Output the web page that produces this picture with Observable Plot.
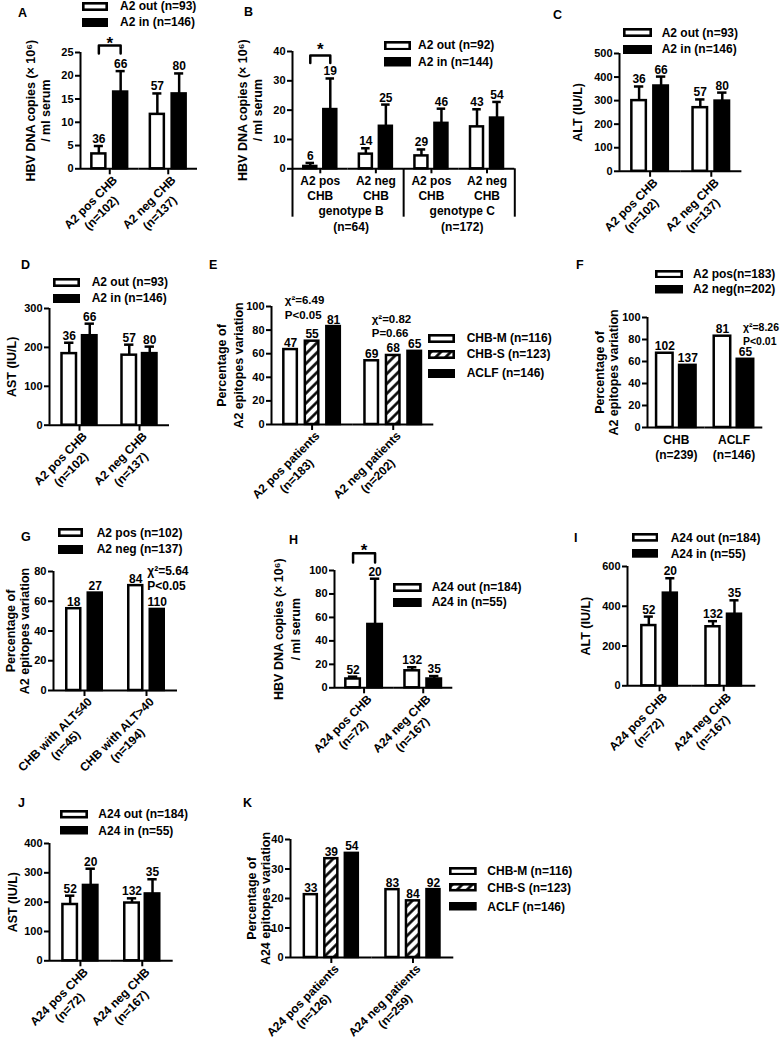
<!DOCTYPE html>
<html><head><meta charset="utf-8">
<script src="https://cdn.jsdelivr.net/npm/d3@7"></script>
<script src="https://cdn.jsdelivr.net/npm/@observablehq/plot@0.6"></script>
<style>
body{margin:0;background:#fff;}
#fig{position:relative;width:781px;height:1043px;overflow:hidden;background:#fff;font-family:"Liberation Sans",Arial,sans-serif;font-weight:bold;color:#000;}
.abs{position:absolute;white-space:nowrap;}
.letter{font-size:12.5px;line-height:14px;}
.leg{font-size:12px;line-height:14px;}
</style></head><body>
<svg width="0" height="0" style="position:absolute"><defs>
<pattern id="hatch" patternUnits="userSpaceOnUse" width="7" height="7" patternTransform="rotate(45)">
<rect width="7" height="7" fill="white"/><line x1="3.5" y1="0" x2="3.5" y2="7" stroke="black" stroke-width="2.6"/></pattern>
</defs></svg>
<div id="fig"></div>
<script>
// ================= DATA =================
const A_series = ["A2 out (n=93)", "A2 in (n=146)"];
const A_groups = ["A2 pos CHB\n(n=102)", "A2 neg CHB\n(n=137)"];
const A_mean = [[3.2, 11.7], [16.5, 16.1]];
const A_sem  = [[1.7, 4.5], [4.5, 4.4]];
const A_n    = [[36, 57], [66, 80]];

const B_series = ["A2 out (n=92)", "A2 in (n=144)"];
const B_genotypes = ["genotype B\n(n=64)", "genotype C\n(n=172)"];
const B_subgroups = ["A2 pos\nCHB", "A2 neg\nCHB"];
const B_mean = [[0.8, 5.0, 4.4, 14.3], [20.2, 14.5, 15.5, 17.3]];
const B_sem  = [[1.2, 2.0, 2.2, 6.0], [10.6, 7.4, 5.0, 5.5]];
const B_n    = [[6, 14, 29, 43], [19, 25, 46, 54]];

const C_series = ["A2 out (n=93)", "A2 in (n=146)"];
const C_groups = ["A2 pos CHB\n(n=102)", "A2 neg CHB\n(n=137)"];
const C_mean = [[300, 270], [362, 298]];
const C_sem  = [[60, 35], [40, 36]];
const C_n    = [[36, 57], [66, 80]];

const D_series = ["A2 out (n=93)", "A2 in (n=146)"];
const D_groups = ["A2 pos CHB\n(n=102)", "A2 neg CHB\n(n=137)"];
const D_mean = [[184, 180], [230, 184]];
const D_sem  = [[28, 27], [31, 18]];
const D_n    = [[36, 57], [66, 80]];

const E_series = ["CHB-M (n=116)", "CHB-S (n=123)", "ACLF (n=146)"];
const E_groups = ["A2 pos patients\n(n=183)", "A2 neg patients\n(n=202)"];
const E_pct = [[63.5, 54], [70.6, 58.5], [83, 62]];
const E_n   = [[47, 69], [55, 68], [81, 65]];
const E_stats = ["χ²=6.49\nP<0.05", "χ²=0.82\nP=0.66"];

const F_series = ["A2 pos(n=183)", "A2 neg(n=202)"];
const F_groups = ["CHB\n(n=239)", "ACLF\n(n=146)"];
const F_pct = [[67.5, 83], [56.5, 62]];
const F_n   = [[102, 81], [137, 65]];
const F_stats = ["χ²=8.26\nP<0.01"];

const G_series = ["A2 pos (n=102)", "A2 neg (n=137)"];
const G_groups = ["CHB with ALT≤40\n(n=45)", "CHB with ALT>40\n(n=194)"];
const G_pct = [[55, 70.5], [65.5, 54.5]];
const G_n   = [[18, 84], [27, 110]];
const G_stats = ["χ²=5.64\nP<0.05"];

const H_series = ["A24 out (n=184)", "A24 in (n=55)"];
const H_groups = ["A24 pos CHB\n(n=72)", "A24 neg CHB\n(n=167)"];
const H_mean = [[7.5, 14.5], [54, 7.5]];
const H_sem  = [[2, 3], [39, 2.5]];
const H_n    = [[52, 132], [20, 35]];

const I_series = ["A24 out (n=184)", "A24 in (n=55)"];
const I_groups = ["A24 pos CHB\n(n=72)", "A24 neg CHB\n(n=167)"];
const I_mean = [[303, 297], [466, 360]];
const I_sem  = [[45, 28], [75, 70]];
const I_n    = [[52, 132], [20, 35]];

const J_series = ["A24 out (n=184)", "A24 in (n=55)"];
const J_groups = ["A24 pos CHB\n(n=72)", "A24 neg CHB\n(n=167)"];
const J_mean = [[192, 197], [257, 228]];
const J_sem  = [[30, 16], [57, 50]];
const J_n    = [[52, 132], [20, 35]];

const K_series = ["CHB-M (n=116)", "CHB-S (n=123)", "ACLF (n=146)"];
const K_groups = ["A24 pos patients\n(n=126)", "A24 neg patients\n(n=259)"];
const K_pct = [[21.3, 23], [33.5, 19.2], [35.3, 23]];
const K_n   = [[33, 83], [39, 84], [54, 92]];

const TITLE_HBV = "HBV DNA copies (× 10⁶)\n/ ml serum";
const TITLE_PCT2 = "Percentage of\nA2 epitopes variation";
const TITLE_PCT24 = "Percentage of\nA24 epitopes variation";

// ================= HELPERS =================
const SW = 2.5;
const FONT = "'Liberation Sans', Arial, sans-serif";
const fig = document.getElementById("fig");
const FILL2 = ["white", "black"];
const FILL3 = ["white", "url(#hatch)", "black"];

function table(groups, series, values, err, labels) {
  const rows = [];
  groups.forEach((g, gi) => series.forEach((s, si) => {
    const v = values[si][gi];
    const e = err ? err[si][gi] : 0;
    rows.push({group: g, series: s, value: v, top: v + e, err: !!err, label: String(labels[si][gi])});
  }));
  return rows;
}

function addLetter(ch, x, y) {
  const d = document.createElement("div");
  d.className = "abs letter"; d.textContent = ch;
  d.style.left = (x - 4) + "px"; d.style.top = (y - 7) + "px";
  fig.appendChild(d);
}

function addLegend(items, fills, LG) {
  items.forEach((t, i) => {
    const y = LG.ys[i];
    const s = document.createElementNS("http://www.w3.org/2000/svg", "svg");
    s.setAttribute("width", LG.w); s.setAttribute("height", LG.h);
    s.style.position = "absolute"; s.style.left = LG.x + "px"; s.style.top = (y - LG.h / 2) + "px";
    s.innerHTML = `<rect x="1.3" y="1.3" width="${LG.w - 2.6}" height="${LG.h - 2.6}" fill="${fills[i]}" stroke="black" stroke-width="2.6"/>`;
    fig.appendChild(s);
    const d = document.createElement("div");
    d.className = "abs leg"; d.textContent = t;
    d.style.left = LG.tx + "px"; d.style.top = (y - 7) + "px";
    fig.appendChild(d);
  });
}

function panel(P) {
  const {groups, series, rows, fills, L} = P;
  const nG = groups.length, nS = series.length;
  const fw = (L.x1 - L.x0) / nG;
  const bw = L.bar - SW;
  const step = L.bar + L.gap;
  const pi = 1 - bw / step;
  const po = (fw / step - nS + pi) / 2;
  const edge = po * step + bw / 2;
  const ML = 100, MR = 80, MT = 50, MB = 110;
  const cap = Math.max(0, (bw - L.bar * 0.55) / 2);
  const ctx = {edge, step, bw, series, groups};
  const marks = [
    Plot.ruleY([0], {strokeWidth: 2}),
    Plot.ruleX([{group: groups[0]}], {fx: "group", x: () => series[0], dx: -edge, y1: () => (L.axisLow ?? 0), y2: () => L.ymax, strokeWidth: 2}),
    Plot.axisY({ticks: L.yTicks, tickSize: 5, tickPadding: 2, strokeWidth: 2, fontSize: 11, label: null}),
    Plot.axisFx({anchor: "bottom", label: null, tickSize: L.tickSize ?? 6, tickPadding: L.tickPad ?? 2,
      tickRotate: L.rot ? -45 : 0, tickFormat: L.fmt ?? (d => d), fontSize: 12, lineHeight: 1.25, strokeWidth: 2}),
    Plot.text([{group: groups[0]}], {fx: "group", text: () => L.title, frameAnchor: "left", rotate: -90,
      dx: (L.t1 - 4.4) - L.x0, textAnchor: "middle", lineAnchor: "top", lineHeight: L.tlh ?? 1.2, fontSize: 12.5}),
    Plot.barY(rows, {fx: "group", x: "series", y: "value", fill: "series", stroke: "black", strokeWidth: SW}),
  ];
  const er = rows.filter(r => r.err);
  if (er.length) {
    marks.push(Plot.ruleX(er, {fx: "group", x: "series", y1: "value", y2: "top", strokeWidth: 2.5}));
    marks.push(Plot.tickY(er, {fx: "group", x: "series", y: "top", strokeWidth: 2.5, insetLeft: cap, insetRight: cap}));
  }
  marks.push(Plot.text(rows, {fx: "group", x: "series", y: "top", text: "label", dy: -3, lineAnchor: "bottom", fontSize: 12}));
  if (L.sig) {
    const g = groups[L.sig.g];
    marks.push(Plot.line([
      {group: g, s: series[0], y: L.sig.lo}, {group: g, s: series[0], y: L.sig.hi},
      {group: g, s: series[1], y: L.sig.hi}, {group: g, s: series[1], y: L.sig.lo}],
      {fx: "group", x: "s", y: "y", strokeWidth: 2.5}));
    marks.push(Plot.text([{group: g}], {fx: "group", x: () => series[0], dx: step / 2, y: () => L.sig.star,
      text: () => "*", fontSize: 17, lineAnchor: "middle"}));
  }
  if (L.notes) L.notes.forEach(n => {
    marks.push(Plot.text([{group: groups[n.g]}], {fx: "group", x: () => series[n.s], y: () => n.y, text: () => n.text,
      textAnchor: n.anchor ?? "middle", dx: (n.dxb ?? 0) * bw + (n.dx ?? 0), dy: -4.2, lineAnchor: "top",
      lineHeight: n.lh ?? 1.28, fontSize: n.fs ?? 12}));
  });
  if (P.extra) marks.push(...P.extra(ctx));
  const svg = Plot.plot({
    width: L.x1 - L.x0 + ML + MR,
    height: L.yBot - L.yTop + MT + MB,
    marginLeft: ML, marginRight: MR, marginTop: MT, marginBottom: MB,
    style: `font-family:${FONT};font-size:11px;font-weight:bold;overflow:visible;background:none;position:absolute;left:${L.x0 - ML}px;top:${L.yTop - MT}px;`,
    fx: {domain: groups, padding: 0, round: false},
    x: {domain: series, paddingInner: pi, paddingOuter: po, round: false, axis: null},
    y: {domain: [0, L.ymax], axis: null},
    color: {domain: series, range: fills},
    marks
  });
  fig.appendChild(svg);
  if (L.rot) {
    // rotated two-line tick labels: first line hangs from the tick end, lines centred on each other
    svg.querySelectorAll('g[aria-label="fx-axis tick label"] text').forEach(t => {
      const spans = Array.from(t.querySelectorAll("tspan"));
      if (spans.length < 2) return;
      const ws = spans.map(s => s.getComputedTextLength());
      const w = Math.max(...ws);
      t.setAttribute("text-anchor", "end");
      t.removeAttribute("y"); t.removeAttribute("dy");
      spans.forEach((s, i) => {
        s.setAttribute("text-anchor", "end");
        s.setAttribute("x", 3 - (w - ws[i]) / 2);
        if (i === 0) { s.setAttribute("y", "0.72em"); s.removeAttribute("dy"); }
        else { s.removeAttribute("y"); s.setAttribute("dy", "1.25em"); }
      });
    });
  }
  addLetter(P.letter, L.lx, L.ly);
  addLegend(series, fills, P.legend);
}

// ================= PANELS =================
panel({letter: "A", groups: A_groups, series: A_series, fills: FILL2,
  rows: table(A_groups, A_series, A_mean, A_sem, A_n),
  L: {x0: 80, x1: 197, yTop: 51.5, yBot: 167.8, ymax: 25, yTicks: [0, 5, 10, 15, 20, 25], bar: 16.5, gap: 5.3,
      rot: true, title: TITLE_HBV, t1: 28, tlh: 1.2, lx: 22, ly: 13,
      sig: {g: 0, lo: 24.8, hi: 26.5, star: 26.9}},
  legend: {x: 82, w: 26, h: 9, tx: 120, ys: [6, 22]}});

const B_keys = B_genotypes.flatMap(g => B_subgroups.map(s => g + "|" + s));
panel({letter: "B", groups: B_keys, series: B_series, fills: FILL2,
  rows: table(B_keys, B_series, B_mean, B_sem, B_n),
  L: {x0: 291.7, x1: 514, yTop: 51, yBot: 168.3, ymax: 40, yTicks: [0, 10, 20, 30, 40], bar: 15.5, gap: 4.5,
      rot: false, fmt: d => d.split("|")[1], tickSize: 5, tickPad: 1, axisLow: -16.5,
      title: TITLE_HBV, t1: 240, tlh: 1.2, lx: 248, ly: 12,
      sig: {g: 0, lo: 36.1, hi: 38.6, star: 40.5}},
  legend: {x: 384, w: 27, h: 9.5, tx: 418, ys: [45.3, 62]},
  extra: c => [
    Plot.ruleX([{group: B_keys[2]}], {fx: "group", x: () => c.series[0], dx: -c.edge, y1: () => 0, y2: () => -16.5, strokeWidth: 2}),
    Plot.ruleX([{group: B_keys[3]}], {fx: "group", x: () => c.series[1], dx: c.edge, y1: () => 0, y2: () => -16.5, strokeWidth: 2}),
    Plot.text([{group: B_keys[1], t: B_genotypes[0]}, {group: B_keys[3], t: B_genotypes[1]}],
      {fx: "group", text: "t", frameAnchor: "bottom-left", textAnchor: "middle", dx: 3, dy: 35, lineAnchor: "top", lineHeight: 1.35, fontSize: 12})
  ]});

panel({letter: "C", groups: C_groups, series: C_series, fills: FILL2,
  rows: table(C_groups, C_series, C_mean, C_sem, C_n),
  L: {x0: 619.3, x1: 741.7, yTop: 52.7, yBot: 170.5, ymax: 500, yTicks: [0, 100, 200, 300, 400, 500], bar: 17, gap: 5,
      rot: true, title: "ALT (IU/L)", t1: 576, lx: 557, ly: 15},
  legend: {x: 623, w: 29, h: 9, tx: 661.7, ys: [32.7, 49.3]}});

panel({letter: "D", groups: D_groups, series: D_series, fills: FILL2,
  rows: table(D_groups, D_series, D_mean, D_sem, D_n),
  L: {x0: 49.3, x1: 169.3, yTop: 308.3, yBot: 425, ymax: 300, yTicks: [0, 100, 200, 300], bar: 17, gap: 3.5,
      rot: true, title: "AST (IU/L)", t1: 10, lx: 25, ly: 265},
  legend: {x: 53, w: 27, h: 9, tx: 91.7, ys: [282.3, 298.3]}});

panel({letter: "E", groups: E_groups, series: E_series, fills: FILL3,
  rows: table(E_groups, E_series, E_pct, null, E_n),
  L: {x0: 271, x1: 433.3, yTop: 306, yBot: 424, ymax: 100, yTicks: [0, 20, 40, 60, 80, 100], bar: 16, gap: 5.5,
      rot: true, title: TITLE_PCT2, t1: 218, tlh: 1.35, lx: 213, ly: 265,
      notes: [{g: 0, s: 0, y: 107.9, lh: 1.33, text: E_stats[0], anchor: "start", dxb: -0.5, dx: 1, fs: 11.5},
              {g: 1, s: 0, y: 91.5, lh: 1.25, text: E_stats[1], anchor: "start", dx: 0, fs: 11.5}]},
  legend: {x: 428, w: 27, h: 9, tx: 466.7, ys: [338, 354.3, 373]}});

panel({letter: "F", groups: F_groups, series: F_series, fills: FILL2,
  rows: table(F_groups, F_series, F_pct, null, F_n),
  L: {x0: 646.7, x1: 762, yTop: 316.7, yBot: 426.7, ymax: 100, yTicks: [0, 20, 40, 60, 80, 100], bar: 19, gap: 4,
      rot: false, tickSize: 0, tickPad: 6, title: TITLE_PCT2, t1: 597, tlh: 1.15, lx: 580, ly: 265,
      notes: [{g: 1, s: 1, y: 93.4, lh: 1.35, text: F_stats[0], anchor: "start", dx: -2.5, fs: 10.5}]},
  legend: {x: 655, w: 28, h: 8.5, tx: 693, ys: [274, 289.3]}});

panel({letter: "G", groups: G_groups, series: G_series, fills: FILL2,
  rows: table(G_groups, G_series, G_pct, null, G_n),
  L: {x0: 52.7, x1: 176.7, yTop: 571, yBot: 690, ymax: 80, yTicks: [0, 20, 40, 60, 80], bar: 16.5, gap: 5,
      rot: true, title: TITLE_PCT2, t1: 9, tlh: 1.12, lx: 25, ly: 537,
      notes: [{g: 1, s: 1, y: 82.2, lh: 1.25, text: G_stats[0], anchor: "start", dx: -10}]},
  legend: {x: 58, w: 25, h: 9, tx: 96.7, ys: [532.7, 549.3]}});

panel({letter: "H", groups: H_groups, series: H_series, fills: FILL2,
  rows: table(H_groups, H_series, H_mean, H_sem, H_n),
  L: {x0: 334, x1: 452.3, yTop: 570, yBot: 687.3, ymax: 100, yTicks: [0, 20, 40, 60, 80, 100], bar: 17, gap: 5,
      rot: true, title: TITLE_HBV, t1: 275, tlh: 1.33, lx: 293, ly: 540,
      sig: {g: 0, lo: 106.9, hi: 114.6, star: 117}},
  legend: {x: 393, w: 28.7, h: 9, tx: 431.7, ys: [587.3, 602.3]}});

panel({letter: "I", groups: I_groups, series: I_series, fills: FILL2,
  rows: table(I_groups, I_series, I_mean, I_sem, I_n),
  L: {x0: 626.7, x1: 755, yTop: 565.7, yBot: 685, ymax: 600, yTicks: [0, 200, 400, 600], bar: 16.5, gap: 5,
      rot: true, title: "ALT (IU/L)", t1: 583, lx: 578, ly: 538},
  legend: {x: 631.7, w: 26.3, h: 8.7, tx: 670.7, ys: [537.5, 553.5]}});

panel({letter: "J", groups: J_groups, series: J_series, fills: FILL2,
  rows: table(J_groups, J_series, J_mean, J_sem, J_n),
  L: {x0: 49.3, x1: 173, yTop: 842.7, yBot: 960, ymax: 400, yTicks: [0, 100, 200, 300, 400], bar: 17, gap: 3.5,
      rot: true, title: "AST (IU/L)", t1: 11, lx: 22, ly: 803},
  legend: {x: 60, w: 28, h: 8.5, tx: 98.3, ys: [814.3, 830.5]}});

panel({letter: "K", groups: K_groups, series: K_series, fills: FILL3,
  rows: table(K_groups, K_series, K_pct, null, K_n),
  L: {x0: 290, x1: 453.3, yTop: 839.3, yBot: 957.3, ymax: 40, yTicks: [0, 10, 20, 30, 40], bar: 15.5, gap: 5,
      rot: true, title: TITLE_PCT24, t1: 249.7, tlh: 1.12, lx: 247, ly: 803},
  legend: {x: 449, w: 27.7, h: 8.5, tx: 487.3, ys: [871, 887.5, 906.5]}});
</script>
</body></html>
